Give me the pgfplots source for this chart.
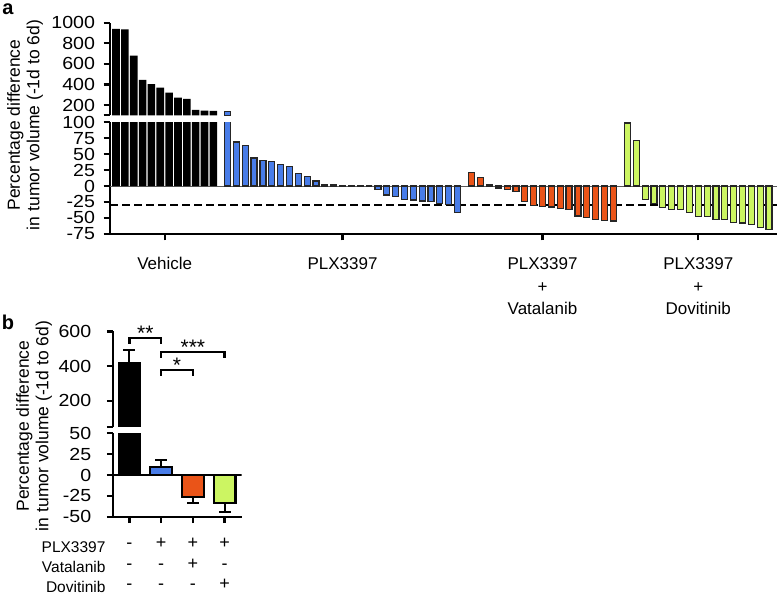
\documentclass[border=0pt]{standalone}
\usepackage{fontspec}
\setmainfont{Liberation Sans}
\newfontfamily\tickfam{Liberation Sans}[FakeStretch=1.12]
\usepackage{pgfplots}
\usepackage{pgfplotstable}
\pgfplotsset{compat=1.18}

\definecolor{plxBlue}{RGB}{72,124,232}
\definecolor{vatOrange}{RGB}{234,84,24}
\definecolor{dovGreen}{RGB}{204,245,98}
\definecolor{barEdge}{RGB}{38,38,38}

\newcommand\tickfont{\tickfam\fontsize{17.5}{20}\selectfont}
\newcommand\xfont{\fontsize{17}{22.5}\selectfont}
\newcommand\labfont{\fontsize{17.5}{19.5}\selectfont}
\newcommand\rowfont{\fontsize{15.5}{20.3}\selectfont}
\newcommand\symfont{\fontsize{18}{20.3}\selectfont}

% panel a, one table per group
\pgfplotstableread{
x y
0 940
1 935
2 680
3 443
4 404
5 368
6 320
7 271
8 259
9 152
10 145
11 142
}\vehicle
\pgfplotstableread{
x y
12.6 135
13.6 69
14.6 63
15.6 44
16.6 40.5
17.6 39
18.6 34
19.6 30
20.6 19
21.6 15.5
22.6 8
23.6 2
24.6 1.5
25.6 1
26.6 1
27.6 0.5
28.6 0
29.6 -5
30.6 -14
31.6 -16.5
32.6 -21
33.6 -22
34.6 -23.5
35.6 -24.5
36.6 -27
37.6 -29.5
38.6 -41.5
}\plx
\pgfplotstableread{
x y
40.2 20.8
41.2 13.5
42.2 2
43.2 -3
44.2 -5
45.2 -9
46.2 -24.5
47.2 -31
48.2 -32
49.2 -33
50.2 -35
51.2 -37.5
52.2 -47
53.2 -49
54.2 -52
55.2 -54
56.2 -55
}\vata
\pgfplotstableread{
x y
57.8 99
58.8 71
59.8 -21
60.8 -28
61.8 -34
62.8 -36.5
63.8 -36.5
64.8 -41.7
65.8 -48
66.8 -48
67.8 -53
68.8 -53
69.8 -57
70.8 -58
71.8 -61
72.8 -64.6
73.8 -68.8
}\dovi

\pgfplotsset{
  wf/.style={
    scale only axis, anchor=south west, clip=true,
    axis line style={line width=2.3pt, black},
    tick style={line width=2.3pt, black},
    tick align=outside, major tick length=6.5pt,
    yticklabel style={font=\tickfont, xshift=-5pt},
    minor tick num=0,
  },
  blk/.style={ybar, bar shift=0pt, bar width=7.6pt, fill=black, draw=none},
  col/.style={ybar, bar shift=0pt, bar width=6pt, fill=#1, draw=barEdge, line width=1.2pt},
  bbar/.style={ybar, bar shift=0pt, bar width=21.7pt, fill=#1, draw=black, line width=2.2pt},
  eb/.style={error bars/.cd, y dir=#1, y explicit,
    error bar style={line width=2pt, black},
    error mark options={rotate=90, mark size=6pt, line width=2pt, black}},
}

\begin{document}
\begin{tikzpicture}
\useasboundingbox (0,0) rectangle (777pt,601pt);

% ---------- panel a, lower part ----------
\begin{axis}[wf, at={(110pt,367.2pt)}, width=667pt, height=111.5pt,
  xmin=-0.68, xmax=74.7, ymin=-75, ymax=100,
  axis x line*=bottom, axis y line*=left,
  ytick={-75,-50,-25,0,25,50,75,100},
  yticklabels={-75,-50,-25,0,25,50,75,100},
  xtick={5.5,25.6,48.2,65.8},
  xticklabels={\strut Vehicle, \strut PLX3397,
    {\strut PLX3397\\\strut +\\\strut Vatalanib},
    {\strut PLX3397\\\strut +\\\strut Dovitinib}},
  xticklabel style={font=\xfont, align=center, yshift=-10pt},
]
\draw[gray!70!black, line width=0.9pt] (axis cs:-0.68,0) -- (axis cs:74.7,0);
\draw[black, line width=1.7pt, dash pattern=on 8pt off 4pt] (axis cs:-0.68,-30) -- (axis cs:74.7,-30);
\addplot[blk] table {\vehicle};
\addplot[col=plxBlue] table {\plx};
\addplot[col=vatOrange] table {\vata};
\addplot[col=dovGreen] table {\dovi};
\end{axis}

% ---------- panel a, upper part ----------
\begin{axis}[wf, at={(110pt,485.7pt)}, width=667pt, height=92.6pt,
  xmin=-0.68, xmax=74.7, ymin=100, ymax=1000,
  axis x line=none, axis y line*=left, xtick=\empty,
  ytick={100,200,400,600,800,1000},
  yticklabels={,200,400,600,800,1000},
]
\addplot[blk, restrict y to domain=100:2000] table {\vehicle};
\addplot[col=plxBlue, restrict y to domain=100:2000] table {\plx};
\end{axis}

\node[rotate=90, align=center, font=\labfont] at (25pt,476pt)
  {Percentage difference\\in tumor volume (-1d to 6d)};
\node[font=\fontsize{20}{24}\selectfont\bfseries] at (8pt,592pt) {a};

% ---------- panel b, lower part ----------
\begin{axis}[wf, at={(113.3pt,84.3pt)}, width=128.4pt, height=83.4pt,
  xmin=-0.51, xmax=3.54, ymin=-50, ymax=50,
  axis x line*=bottom, axis y line*=left,
  yticklabel style={xshift=-7pt},
  ytick={-50,-25,0,25,50}, yticklabels={-50,-25,0,25,50},
  xtick={0,1,2,3},
  xticklabels={{\strut -\\\strut -\\\strut -},{\strut +\\\strut -\\\strut -},
    {\strut +\\\strut +\\\strut -},{\strut +\\\strut -\\\strut +}},
  xticklabel style={font=\symfont, align=center, yshift=-8pt},
]
\addplot[bbar=black] coordinates {(0,415)};
\addplot[bbar=plxBlue, eb=plus] coordinates {(1,10) +- (0,8)};
\addplot[bbar=vatOrange, eb=minus] coordinates {(2,-26) +- (0,7)};
\addplot[bbar=dovGreen, eb=minus] coordinates {(3,-34) +- (0,10.8)};
\draw[black, line width=2pt] (axis cs:-0.51,0) -- (axis cs:3.54,0);
\end{axis}

% ---------- panel b, upper part ----------
\begin{axis}[wf, at={(113.3pt,174.3pt)}, width=128.4pt, height=95.2pt,
  xmin=-0.51, xmax=3.54, ymin=50, ymax=600,
  axis x line=none, axis y line*=left, xtick=\empty,
  yticklabel style={xshift=-7pt},
  ytick={50,200,400,600}, yticklabels={,200,400,600},
  clip=false,
]
\begin{scope}
\clip (axis cs:-0.51,50) rectangle (axis cs:3.54,600);
\addplot[bbar=black, eb=plus] coordinates {(0,415) +- (0,80)};
\end{scope}
\draw[line width=2.2pt] (axis cs:0,528) -- (axis cs:0,561) -- (axis cs:1,561) -- (axis cs:1,528);
\draw[line width=2.2pt] (axis cs:1,447) -- (axis cs:1,480) -- (axis cs:3,480) -- (axis cs:3,447);
\draw[line width=2.2pt] (axis cs:1,343) -- (axis cs:1,377) -- (axis cs:2,377) -- (axis cs:2,343);
\node[font=\fontsize{21}{24}\selectfont] at (axis cs:0.5,588) {**};
\node[font=\fontsize{21}{24}\selectfont] at (axis cs:2,508) {***};
\node[font=\fontsize{21}{24}\selectfont] at (axis cs:1.5,406) {*};
\end{axis}

\node[font=\fontsize{20}{24}\selectfont\bfseries] at (8pt,279pt) {b};
\node[rotate=90, align=center, font=\labfont] at (34pt,175pt)
  {Percentage difference\\in tumor volume (-1d to 6d)};
\node[anchor=east, font=\rowfont] at (109pt,54.3pt) {PLX3397};
\node[anchor=east, font=\rowfont] at (109pt,33.7pt) {Vatalanib};
\node[anchor=east, font=\rowfont] at (109pt,13.7pt) {Dovitinib};
\end{tikzpicture}
\end{document}
